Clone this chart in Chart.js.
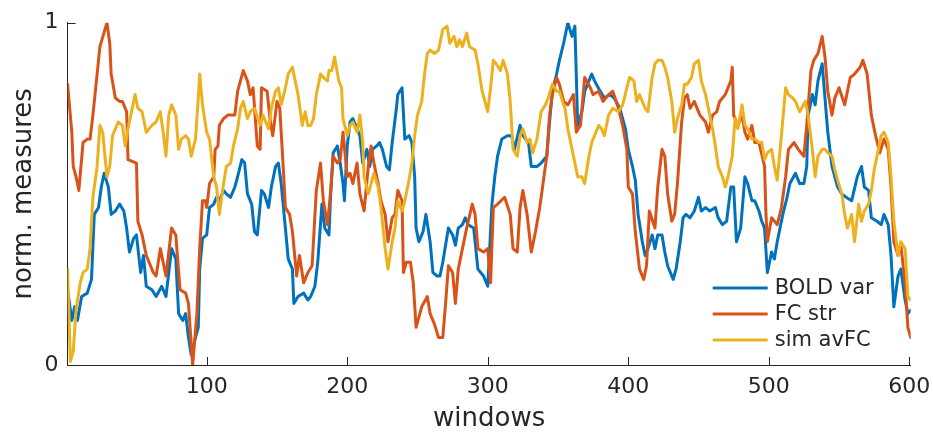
<!DOCTYPE html>
<html>
<head>
<meta charset="utf-8">
<title>norm. measures</title>
<script src="https://cdn.jsdelivr.net/npm/chart.js@4.4.1/dist/chart.umd.min.js"></script>
<style>
  html, body { margin: 0; padding: 0; background: #fff; }
</style>
</head>
<body>
<canvas id="measures" width="933" height="432"></canvas>
<script>
// BOLD variance (normalised), window index and value
const boldWin = [1, 4, 6, 8, 11, 15, 18, 20, 23, 25,
  27, 30, 32, 35, 38, 41, 43, 45, 48, 50,
  53, 55, 57, 61, 64, 68, 71, 75, 78, 80,
  83, 85, 87, 89, 92, 94, 95, 97, 100, 102,
  105, 107, 109, 112, 114, 117, 120, 122, 125, 127,
  129, 132, 134, 136, 139, 141, 144, 146, 149, 151,
  153, 156, 158, 161, 162, 165, 169, 172, 174, 177,
  179, 182, 184, 187, 188, 190, 193, 195, 197, 198,
  200, 202, 204, 207, 209, 211, 214, 216, 218, 221,
  223, 225, 228, 230, 232, 235, 236, 239, 241, 244,
  246, 248, 249, 251, 254, 256, 259, 261, 264, 266,
  268, 272, 275, 277, 279, 282, 284, 286, 290, 293,
  297, 300, 303, 305, 307, 310, 314, 317, 319, 323,
  325, 329, 331, 335, 338, 342, 344, 346, 349, 351,
  354, 357, 360, 362, 363, 364, 367, 369, 374, 376,
  380, 383, 387, 390, 394, 398, 400, 403, 405, 407,
  410, 412, 414, 417, 419, 421, 424, 426, 428, 432,
  434, 437, 439, 441, 444, 447, 450, 452, 455, 458,
  462, 464, 467, 470, 473, 475, 477, 480, 483, 485,
  488, 490, 493, 495, 497, 499, 502, 504, 506, 510,
  513, 515, 519, 522, 525, 527, 528, 531, 533, 535,
  538, 540, 542, 545, 547, 549, 552, 555, 559, 563,
  566, 568, 571, 573, 577, 580, 582, 585, 587, 589,
  592, 594, 597, 599, 601];
const boldVal = [0.22, 0.13, 0.17, 0.13, 0.20, 0.21, 0.25, 0.44, 0.46, 0.52,
  0.56, 0.52, 0.44, 0.45, 0.47, 0.45, 0.40, 0.33, 0.37, 0.38,
  0.27, 0.32, 0.23, 0.22, 0.20, 0.23, 0.20, 0.34, 0.31, 0.15,
  0.13, 0.15, 0.08, 0.03, 0.08, 0.11, 0.28, 0.37, 0.38, 0.46,
  0.47, 0.49, 0.48, 0.51, 0.50, 0.49, 0.52, 0.55, 0.60, 0.59,
  0.50, 0.47, 0.39, 0.38, 0.51, 0.50, 0.46, 0.52, 0.58, 0.59,
  0.53, 0.40, 0.31, 0.28, 0.18, 0.20, 0.21, 0.19, 0.20, 0.23,
  0.30, 0.47, 0.40, 0.38, 0.48, 0.62, 0.64, 0.59, 0.53, 0.48,
  0.64, 0.71, 0.72, 0.69, 0.67, 0.59, 0.63, 0.58, 0.63, 0.64,
  0.65, 0.63, 0.58, 0.57, 0.65, 0.75, 0.79, 0.81, 0.66, 0.67,
  0.65, 0.55, 0.40, 0.36, 0.39, 0.44, 0.36, 0.27, 0.26, 0.26,
  0.30, 0.40, 0.38, 0.35, 0.40, 0.41, 0.43, 0.41, 0.40, 0.28,
  0.26, 0.23, 0.47, 0.55, 0.61, 0.66, 0.67, 0.67, 0.63, 0.70,
  0.67, 0.65, 0.58, 0.58, 0.59, 0.61, 0.71, 0.80, 0.85, 0.89,
  0.94, 1.00, 0.96, 0.99, 0.85, 0.70, 0.74, 0.80, 0.85, 0.83,
  0.80, 0.78, 0.79, 0.78, 0.75, 0.69, 0.63, 0.58, 0.54, 0.44,
  0.36, 0.32, 0.34, 0.38, 0.34, 0.38, 0.38, 0.33, 0.29, 0.25,
  0.28, 0.36, 0.43, 0.44, 0.43, 0.45, 0.49, 0.45, 0.46, 0.45,
  0.46, 0.43, 0.41, 0.42, 0.52, 0.52, 0.36, 0.40, 0.55, 0.53,
  0.48, 0.48, 0.45, 0.42, 0.40, 0.27, 0.33, 0.31, 0.36, 0.44,
  0.49, 0.53, 0.56, 0.53, 0.53, 0.58, 0.73, 0.79, 0.76, 0.83,
  0.88, 0.78, 0.68, 0.58, 0.55, 0.52, 0.50, 0.49, 0.48, 0.55,
  0.58, 0.52, 0.51, 0.43, 0.42, 0.41, 0.44, 0.41, 0.32, 0.17,
  0.26, 0.28, 0.19, 0.15, 0.16];

// FC strength (normalised)
const fcWin = [1, 4, 5, 7, 9, 12, 15, 17, 19, 22,
  24, 29, 31, 32, 35, 38, 40, 43, 44, 50,
  51, 54, 57, 62, 64, 67, 71, 75, 78, 81,
  85, 87, 90, 93, 95, 97, 99, 100, 102, 105,
  106, 108, 109, 112, 115, 120, 122, 126, 129, 131,
  133, 136, 138, 139, 143, 145, 147, 150, 152, 154,
  156, 159, 161, 164, 166, 169, 172, 175, 178, 181,
  183, 186, 188, 190, 193, 195, 197, 200, 202, 204,
  207, 209, 212, 215, 217, 219, 222, 224, 227, 229,
  232, 234, 236, 239, 240, 242, 245, 247, 249, 253,
  257, 259, 262, 265, 268, 270, 272, 275, 277, 279,
  282, 285, 289, 291, 293, 297, 300, 302, 304, 307,
  312, 316, 318, 321, 323, 325, 328, 331, 334, 337,
  339, 342, 344, 346, 349, 351, 354, 357, 361, 363,
  366, 369, 373, 375, 379, 382, 386, 389, 393, 396,
  399, 400, 403, 405, 408, 411, 413, 415, 419, 421,
  424, 426, 428, 431, 433, 435, 438, 440, 442, 444,
  447, 451, 455, 457, 460, 463, 465, 469, 473, 474,
  475, 478, 481, 483, 485, 488, 490, 493, 497, 498,
  499, 502, 506, 509, 512, 514, 518, 521, 525, 527,
  530, 532, 535, 538, 540, 542, 545, 547, 550, 554,
  558, 561, 565, 567, 570, 573, 576, 579, 582, 585,
  587, 589, 592, 594, 597, 599, 601];
const fcVal = [0.82, 0.68, 0.58, 0.55, 0.51, 0.65, 0.66, 0.66, 0.73, 0.85,
  0.93, 1.00, 0.94, 0.85, 0.78, 0.77, 0.77, 0.74, 0.60, 0.59,
  0.42, 0.38, 0.32, 0.27, 0.26, 0.34, 0.26, 0.40, 0.38, 0.22,
  0.21, 0.18, 0.00, 0.15, 0.34, 0.48, 0.48, 0.46, 0.53, 0.55,
  0.63, 0.64, 0.70, 0.72, 0.73, 0.73, 0.80, 0.86, 0.83, 0.79,
  0.81, 0.64, 0.63, 0.81, 0.80, 0.72, 0.67, 0.77, 0.75, 0.61,
  0.46, 0.44, 0.39, 0.26, 0.32, 0.24, 0.27, 0.29, 0.51, 0.59,
  0.48, 0.41, 0.50, 0.61, 0.59, 0.60, 0.68, 0.55, 0.56, 0.53,
  0.59, 0.50, 0.45, 0.58, 0.64, 0.59, 0.53, 0.48, 0.44, 0.36,
  0.43, 0.44, 0.51, 0.48, 0.27, 0.30, 0.30, 0.24, 0.11, 0.17,
  0.20, 0.15, 0.12, 0.08, 0.08, 0.18, 0.29, 0.27, 0.18, 0.28,
  0.34, 0.40, 0.47, 0.44, 0.34, 0.33, 0.34, 0.24, 0.46, 0.47,
  0.49, 0.44, 0.34, 0.33, 0.46, 0.51, 0.44, 0.33, 0.39, 0.46,
  0.52, 0.61, 0.73, 0.79, 0.84, 0.82, 0.77, 0.76, 0.79, 0.68,
  0.70, 0.84, 0.81, 0.79, 0.80, 0.77, 0.79, 0.80, 0.75, 0.70,
  0.63, 0.52, 0.50, 0.39, 0.28, 0.25, 0.29, 0.45, 0.40, 0.52,
  0.63, 0.61, 0.50, 0.42, 0.44, 0.53, 0.71, 0.78, 0.79, 0.75,
  0.77, 0.73, 0.71, 0.68, 0.73, 0.74, 0.77, 0.79, 0.83, 0.87,
  0.73, 0.70, 0.73, 0.68, 0.66, 0.70, 0.65, 0.65, 0.58, 0.44,
  0.36, 0.43, 0.41, 0.46, 0.55, 0.63, 0.65, 0.63, 0.61, 0.70,
  0.86, 0.89, 0.91, 0.96, 0.90, 0.80, 0.73, 0.78, 0.81, 0.76,
  0.84, 0.85, 0.87, 0.89, 0.85, 0.73, 0.67, 0.62, 0.66, 0.63,
  0.52, 0.36, 0.32, 0.35, 0.24, 0.11, 0.08];

// simulated average FC (normalised)
const simWin = [1, 2, 3, 5, 7, 10, 12, 15, 17, 19,
  22, 24, 26, 29, 31, 33, 37, 40, 42, 44,
  47, 49, 51, 54, 57, 61, 64, 67, 69, 71,
  73, 75, 78, 80, 82, 85, 87, 89, 92, 94,
  95, 97, 100, 102, 105, 107, 109, 112, 114, 117,
  119, 122, 124, 126, 129, 131, 134, 138, 140, 144,
  146, 149, 151, 153, 156, 158, 161, 163, 165, 168,
  170, 172, 174, 176, 178, 181, 183, 186, 187, 189,
  191, 194, 196, 197, 200, 202, 204, 207, 209, 211,
  212, 215, 217, 219, 222, 224, 227, 229, 232, 234,
  236, 239, 241, 244, 246, 248, 250, 253, 255, 257,
  259, 262, 265, 268, 271, 273, 276, 278, 280, 282,
  285, 287, 291, 293, 296, 298, 300, 302, 304, 306,
  309, 311, 314, 316, 318, 321, 323, 325, 328, 330,
  332, 335, 338, 341, 343, 346, 349, 351, 354, 355,
  357, 360, 362, 364, 367, 369, 372, 374, 376, 379,
  381, 383, 386, 389, 393, 396, 399, 401, 404, 406,
  408, 412, 414, 417, 419, 421, 424, 426, 428, 431,
  433, 435, 438, 440, 442, 445, 447, 450, 452, 455,
  457, 460, 462, 464, 467, 469, 471, 474, 476, 478,
  481, 483, 485, 488, 490, 493, 495, 497, 499, 502,
  504, 506, 509, 512, 514, 517, 519, 522, 526, 528,
  531, 533, 535, 538, 540, 542, 545, 547, 549, 552,
  554, 556, 559, 561, 564, 566, 568, 571, 573, 575,
  578, 580, 582, 585, 587, 589, 592, 594, 597, 599,
  601];
const simVal = [0.28, 0.14, 0.01, 0.04, 0.16, 0.24, 0.27, 0.28, 0.34, 0.49,
  0.58, 0.70, 0.68, 0.55, 0.58, 0.67, 0.71, 0.70, 0.64, 0.69,
  0.75, 0.79, 0.75, 0.74, 0.68, 0.70, 0.71, 0.74, 0.68, 0.61,
  0.73, 0.76, 0.73, 0.63, 0.66, 0.67, 0.66, 0.61, 0.66, 0.78,
  0.85, 0.76, 0.68, 0.66, 0.55, 0.52, 0.44, 0.53, 0.58, 0.59,
  0.64, 0.69, 0.75, 0.77, 0.72, 0.74, 0.75, 0.70, 0.73, 0.69,
  0.75, 0.80, 0.81, 0.76, 0.81, 0.85, 0.87, 0.83, 0.79, 0.70,
  0.74, 0.70, 0.70, 0.72, 0.79, 0.85, 0.84, 0.83, 0.86, 0.86,
  0.90, 0.83, 0.81, 0.72, 0.67, 0.70, 0.71, 0.68, 0.73, 0.65,
  0.55, 0.50, 0.53, 0.56, 0.52, 0.46, 0.34, 0.28, 0.36, 0.40,
  0.48, 0.45, 0.48, 0.54, 0.59, 0.67, 0.73, 0.77, 0.85, 0.91,
  0.92, 0.91, 0.92, 0.98, 0.99, 0.94, 0.96, 0.93, 0.95, 0.93,
  0.97, 0.93, 0.92, 0.88, 0.80, 0.77, 0.74, 0.81, 0.89, 0.88,
  0.86, 0.89, 0.85, 0.77, 0.63, 0.61, 0.67, 0.69, 0.65, 0.66,
  0.62, 0.66, 0.74, 0.76, 0.78, 0.82, 0.80, 0.80, 0.76, 0.75,
  0.69, 0.63, 0.59, 0.55, 0.55, 0.53, 0.61, 0.65, 0.67, 0.70,
  0.69, 0.67, 0.73, 0.75, 0.74, 0.76, 0.81, 0.84, 0.83, 0.77,
  0.79, 0.75, 0.74, 0.84, 0.88, 0.89, 0.89, 0.87, 0.84, 0.77,
  0.68, 0.72, 0.76, 0.82, 0.82, 0.84, 0.88, 0.89, 0.83, 0.79,
  0.75, 0.69, 0.64, 0.58, 0.55, 0.52, 0.55, 0.61, 0.72, 0.69,
  0.76, 0.70, 0.69, 0.66, 0.66, 0.65, 0.65, 0.60, 0.62, 0.63,
  0.58, 0.54, 0.67, 0.81, 0.79, 0.78, 0.77, 0.74, 0.77, 0.73,
  0.63, 0.55, 0.61, 0.63, 0.63, 0.62, 0.61, 0.57, 0.54, 0.50,
  0.44, 0.40, 0.44, 0.36, 0.47, 0.42, 0.45, 0.47, 0.51, 0.57,
  0.63, 0.67, 0.68, 0.65, 0.55, 0.42, 0.32, 0.36, 0.34, 0.20,
  0.19];

const seriesNames = ['BOLD var', 'FC str', 'sim avFC'];
const seriesColors = ['#0072BD', '#D95319', '#EDB120'];
const xTicks = [100, 200, 300, 400, 500, 600];
const yTicks = [0, 1];

const axisColor = '#262626';
const family = '"DejaVu Sans", sans-serif';

function toPoints(win, val) {
  return win.map((w, i) => ({ x: w, y: val[i] }));
}

// MATLAB-style tick marks pointing into the axes
const inwardTicks = {
  id: 'inwardTicks',
  beforeDatasetsDraw(chart) {
    const { ctx, chartArea, scales: { x, y } } = chart;
    ctx.save();
    ctx.strokeStyle = axisColor;
    ctx.lineWidth = 1;
    ctx.beginPath();
    x.ticks.forEach(t => {
      const px = Math.round(x.getPixelForValue(t.value)) + 0.5;
      ctx.moveTo(px, chartArea.bottom);
      ctx.lineTo(px, chartArea.bottom - 8);
    });
    y.ticks.forEach(t => {
      const py = Math.round(y.getPixelForValue(t.value)) + 0.5;
      ctx.moveTo(chartArea.left, py);
      ctx.lineTo(chartArea.left + 8, py);
    });
    ctx.stroke();
    ctx.restore();
  }
};

// legend in the lower right corner of the axes, no box
const cornerLegend = {
  id: 'cornerLegend',
  afterDraw(chart) {
    const { ctx, chartArea } = chart;
    const x0 = chartArea.right - 198;
    ctx.save();
    ctx.font = '21px ' + family;
    ctx.textBaseline = 'middle';
    ctx.textAlign = 'left';
    chart.data.datasets.forEach((ds, i) => {
      const yRow = chartArea.bottom - 77 + i * 26;
      ctx.strokeStyle = ds.borderColor;
      ctx.lineWidth = 3;
      ctx.beginPath();
      ctx.moveTo(x0, yRow);
      ctx.lineTo(x0 + 55, yRow);
      ctx.stroke();
      ctx.fillStyle = axisColor;
      ctx.fillText(ds.label, x0 + 62, yRow + 1);
    });
    ctx.restore();
  }
};

const series = [[boldWin, boldVal], [fcWin, fcVal], [simWin, simVal]];

new Chart(document.getElementById('measures'), {
  type: 'line',
  data: {
    datasets: series.map(([w, v], i) => ({
      label: seriesNames[i],
      data: toPoints(w, v),
      borderColor: seriesColors[i],
      backgroundColor: seriesColors[i],
      order: series.length - i
    }))
  },
  options: {
    responsive: false,
    animation: false,
    layout: { padding: { top: 22.7, right: 22.3, bottom: 0, left: 0 } },
    elements: {
      point: { radius: 0 },
      line: { borderWidth: 3, tension: 0, borderJoinStyle: 'round', borderCapStyle: 'round' }
    },
    plugins: {
      legend: { display: false },
      tooltip: { enabled: false }
    },
    scales: {
      x: {
        type: 'linear',
        min: 1,
        max: 601,
        afterBuildTicks: s => { s.ticks = xTicks.map(v => ({ value: v })); },
        // fixed axis band, and no extra room reserved for the end labels
        afterFit: s => { s.height = 67; s.paddingLeft = 0; s.paddingRight = 0; },
        grid: { display: false, drawTicks: false },
        border: { display: true, color: axisColor, width: 1 },
        ticks: { color: axisColor, font: { family, size: 22 }, padding: 9, maxRotation: 0, autoSkip: false },
        title: { display: true, text: 'windows', color: axisColor, font: { family, size: 26, lineHeight: 1 }, padding: { top: 0, bottom: 0 } }
      },
      y: {
        min: 0,
        max: 1,
        afterBuildTicks: s => { s.ticks = yTicks.map(v => ({ value: v })); },
        afterFit: s => { s.width = 67.6; s.paddingTop = 0; s.paddingBottom = 0; },
        grid: { display: false, drawTicks: false },
        border: { display: true, color: axisColor, width: 1 },
        ticks: { color: axisColor, font: { family, size: 22 }, padding: 9 },
        title: { display: true, text: 'norm. measures', color: axisColor, font: { family, size: 26 }, padding: { top: 9, bottom: 0 } }
      }
    }
  },
  plugins: [inwardTicks, cornerLegend]
});
</script>
</body>
</html>
